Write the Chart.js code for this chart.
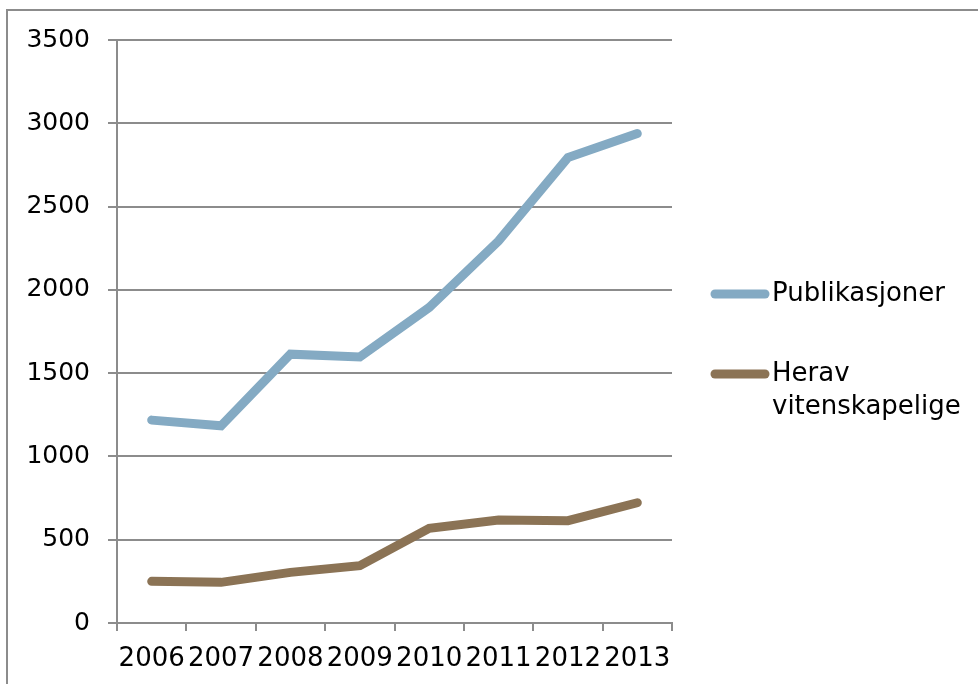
<!DOCTYPE html>
<html>
<head>
<meta charset="utf-8">
<script src="https://cdn.jsdelivr.net/npm/chart.js@4/dist/chart.umd.min.js"></script>
<style>
  body { margin: 0; background: white; }
  canvas { display: block; }
</style>
</head>
<body>
<canvas id="chart" width="978" height="684"></canvas>
<script>
  const years = ['2006', '2007', '2008', '2009', '2010', '2011', '2012', '2013']
  const publikasjoner = [1218, 1184, 1614, 1597, 1894, 2294, 2794, 2938]
  const vitenskapelige = [250, 244, 304, 344, 568, 618, 614, 722]
  const seriesNames = [['Publikasjoner'], ['Herav', 'vitenskapelige']]
  const seriesColors = ['#84aac3', '#8b7355']

  const FONT = '"DejaVu Sans", Verdana, sans-serif'

  // frame round the whole chart, and the legend on the right
  const framePlugin = {
    id: 'frame',
    beforeDraw(chart) {
      const ctx = chart.ctx
      ctx.save()
      ctx.fillStyle = 'white'
      ctx.fillRect(0, 0, chart.width, chart.height)
      ctx.strokeStyle = '#8c8c8c'
      ctx.lineWidth = 2
      ctx.strokeRect(7, 10, 1000, 1000)
      ctx.restore()
    },
    afterDraw(chart) {
      const ctx = chart.ctx
      const area = chart.chartArea
      const x0 = area.right + 39
      const rows = [294, 374]
      ctx.save()
      ctx.font = '26px ' + FONT
      ctx.textBaseline = 'middle'
      ctx.fillStyle = '#000'
      chart.data.datasets.forEach((ds, i) => {
        const y = rows[i]
        ctx.beginPath()
        ctx.moveTo(x0 + 4, y)
        ctx.lineTo(x0 + 54, y)
        ctx.strokeStyle = ds.borderColor
        ctx.lineWidth = 9
        ctx.lineCap = 'round'
        ctx.stroke()
        ds.legendLines.forEach((line, j) => {
          ctx.fillText(line, x0 + 61, y + j * 33)
        })
      })
      ctx.restore()
    }
  }

  new Chart(document.getElementById('chart'), {
    type: 'line',
    data: {
      labels: years,
      datasets: [
        {
          label: seriesNames[0].join(' '),
          legendLines: seriesNames[0],
          data: publikasjoner,
          borderColor: seriesColors[0],
          borderWidth: 9,
          borderCapStyle: 'round',
          pointRadius: 0,
          tension: 0
        },
        {
          label: seriesNames[1].join(' '),
          legendLines: seriesNames[1],
          data: vitenskapelige,
          borderColor: seriesColors[1],
          borderWidth: 9,
          borderCapStyle: 'round',
          pointRadius: 0,
          tension: 0
        }
      ]
    },
    options: {
      responsive: false,
      animation: false,
      layout: { padding: { top: 40, right: 306, left: 0, bottom: 0 } },
      plugins: {
        legend: { display: false },
        tooltip: { enabled: false }
      },
      scales: {
        x: {
          offset: true,
          afterFit(scale) { scale.height = 61 },
          grid: {
            offset: true,
            drawOnChartArea: false,
            drawTicks: true,
            tickLength: 8,
            color: '#8c8c8c',
            lineWidth: 2
          },
          border: { display: true, color: '#8c8c8c', width: 2 },
          ticks: {
            autoSkip: false,
            maxRotation: 0,
            padding: 13,
            color: '#000',
            font: { family: FONT, size: 26 }
          }
        },
        y: {
          min: 0,
          max: 3500,
          afterFit(scale) { scale.width = 117 },
          grid: {
            color: '#8c8c8c',
            lineWidth: 2,
            tickLength: 9
          },
          border: { display: true, color: '#8c8c8c', width: 2 },
          ticks: {
            stepSize: 500,
            padding: 18,
            color: '#000',
            font: { family: FONT, size: 25 },
            callback: value => String(value)
          }
        }
      }
    },
    plugins: [framePlugin]
  })
</script>
</body>
</html>
